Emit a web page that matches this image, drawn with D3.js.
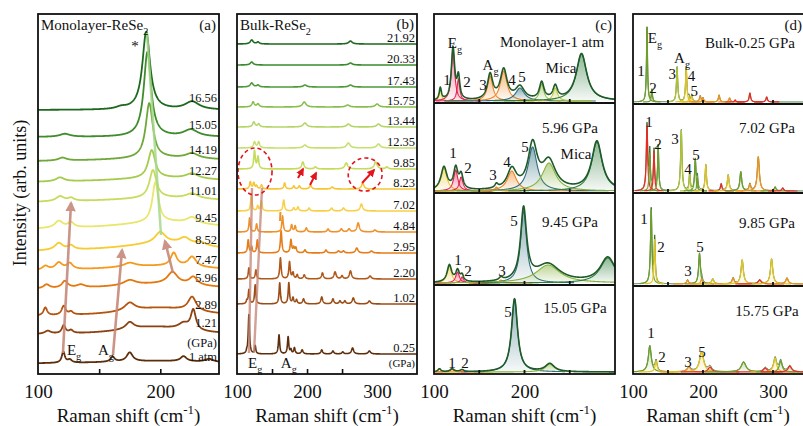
<!DOCTYPE html>
<html><head><meta charset="utf-8">
<script src="https://cdn.jsdelivr.net/npm/d3@7"></script>
<style>body{margin:0;background:#fff}svg text{font-family:"Liberation Serif","Tinos","Times New Roman","DejaVu Serif",serif !important;fill:#111}</style>
</head><body><svg id="c" width="803" height="426" font-family="Liberation Serif, DejaVu Serif, serif"></svg>
<script>
// ---------------- DATA ----------------
// Panel (a): monolayer ReSe2, pressures (GPa), stacking offsets (a.u.), peaks [position cm-1, height a.u., HWHM cm-1]
const pressuresA = ["1 atm","1.21","2.89","5.96","7.47","8.52","9.45","11.01","12.27","14.19","15.05","16.56"];
const offsetsA = [10,39,57,84,102,122,144,171,191,212,237,264];
const peaksA = [
  [[120.7,11,1.5],[126,3,2],[161,5,2],[175,9,3],[219,5,3],[240,3,4],[200,3,60]],
  [[108,3,3],[121,8,1.8],[127,3,2],[175,7,4],[219,6,5],[227,20,2.5],[195,8,35]],
  [[106,8,1.8],[121,9,2],[127,3,2],[175,8,5],[226,14,4],[200,9,40]],
  [[107,4,3],[122,7,3],[135,3,4],[175,5,6],[210,12,5],[227,8,4],[200,6,50]],
  [[106,4,3],[117,7,3.5],[126,6,3],[175,4,6],[211,13,3],[226,10,4],[200,6,60]],
  [[117,7,4],[127,4,3],[200,11,5],[220,6,5],[233,3,5],[205,9,45]],
  [[117,7,4],[127,5,3],[196,40,3],[226,6,5],[205,8,50]],
  [[118,5,4],[127,3,3],[194,28,3.5],[226,5,6],[205,5,60]],
  [[118,4,4],[193,28,3.5],[226,5,6],[205,5,60]],
  [[120,3,4],[191,55,3.5],[226,5,6],[205,4,60]],
  [[122,3,5],[189.5,85,3.6],[225,7,7]],
  [[168,2,5],[188.5,78,3.8],[226,8,7]]
];
const colorsA = ["#5e2e0c","#8a4212","#b5540e","#e4780e","#f59a1c","#f6cc30","#e9e66c","#c6dc5c","#a4cc4c","#6ea83a","#3f8c2c","#1d6a1e"];

// Panel (b): bulk ReSe2
const pressuresB = ["0.25","1.02","2.20","2.95","4.84","7.02","8.23","9.85","12.35","13.44","15.75","17.43","20.33","21.92"];
const offsetsB = [20,70,95,121,142,163,185,205,226,247,267,287,309,330];
const peaksB = [
  [[114,2,1],[117,39,1.1],[126,8,1],[160,19,1.1],[173,17,1.1],[177,4,1],[182,6,1.2],[193,4,1.5],[221,4,1.5],[237,3,1.5],[251,2,1.5],[265,6,1.8],[289,3,2]],
  [[114,3,1],[117,14,1.1],[126,19,1.1],[161,21,1.1],[174,21,1.1],[180,6,1.2],[185,4,1.2],[195,5,1.5],[221,7,1.5],[237,5,1.5],[247,3,1.5],[254,3,1.5],[266,6,1.8],[289,3,2]],
  [[117,11,1.1],[127,9,1.1],[162,21,1.2],[175,17,1.2],[180,6,1.2],[186,4,1.2],[196,4,1.5],[222,6,1.5],[240,7,1.8],[250,3,1.5],[262,8,1.8],[290,3,2]],
  [[116,13,1.1],[121,6,1],[129,13,1.1],[163,22,1.2],[177,13,1.2],[181,5,1.2],[184,5,1.2],[197,3,1.5],[227,3,1.6],[245,2,1.8],[252,2,1.6],[271,5,2],[292,2,2]],
  [[118,14,1.1],[128,8,1.1],[165,16,1.2],[178,7,1.2],[183,6,1.2],[199,4,1.5],[230,3,1.6],[249,3,1.8],[260,3,1.8],[273,9,2],[297,2,2]],
  [[120.5,16,1.2],[129.5,5,1.1],[134.8,10,1.2],[166.7,11,1.3],[181,3,1.3],[187,4,1.4],[203,3,1.5],[235,3,1.6],[252,3,1.8],[277.6,7,2]],
  [[119,7,1.3],[124,6,1.3],[128,3,1.3],[135,4,1.3],[168,6,1.3],[181,3,1.4],[189,3,1.5],[205,4,1.6],[236,2,1.8],[279.5,6,2]],
  [[125,18,1.3],[130,12,1.3],[194,7,2],[212,2,2],[256,6,2.5],[298,7,2.5],[314,2,2]],
  [[125,6,1.8],[131,6,1.6],[197,3,3],[259,5,3],[302,4,3]],
  [[124,5,2],[131,3,1.8],[197,4,3],[259,3,3],[302,3,3]],
  [[123,5,2],[130,3,2],[196,5,3],[258,2,3],[300,3,3]],
  [[121,4,2.5],[130,2,2],[197,2,3],[262,2,3]],
  [[121,3,2.5],[262,2,3]],
  [[121,4,2.5],[130,2,2],[262,3,3]]
];
const colorsB = ["#5e2e0c","#9a4c16","#b0571a","#e57c18","#f0902a","#f8cf46","#f6c534","#c4dc5a","#c6e070","#b4d668","#88be4e","#4c9a3a","#3a8a2e","#1e6a1e"];

// Panel (c): monolayer fits, components [position, height, HWHM, colour key]
const titlesC = ["Monolayer-1 atm","5.96 GPa","9.45 GPa","15.05 GPa"];
const compsC = [
  [[107,12,1.5,"y"],[121,52,2.2,"r"],[127,22,1.8,"r"],[162,25,3.5,"o"],[177,30,4.5,"o"],[195,13,6,"t"],[219,17,3,"g"],[234,13,3,"v"],[263,47,7,"m"]],
  [[111,23,4,"y"],[124,21,2.8,"r"],[130,14,2.5,"r"],[169,4,2,"o"],[186,20,6,"o"],[209,44,6,"t"],[227,28,9,"g"],[280,49,7,"m"]],
  [[117,17,3,"y"],[126,11,2.5,"r"],[131,6,2,"r"],[174,3,2.5,"o"],[199,72,4,"t"],[226,18,16,"g"],[292,25,10,"m"]],
  [[106,3,2,"y"],[120,3,2.5,"r"],[131,2,2.5,"y"],[189,73,4,"t"],[228,8,6,"g"]]
];
// Panel (d): bulk fits
const titlesD = ["Bulk-0.25 GPa","7.02 GPa","9.85 GPa","15.75 GPa"];
const compsD = [
  [[120,75,0.9,"g"],[127,12,0.9,"g"],[163,35,1.1,"v"],[176,35,1.1,"y"],[180,5,1,"y"],[184,7,1,"y"],[196,6,1.2,"o"],[200,4,1.2,"o"],[223,7,1.2,"o"],[238,4,1.2,"o"],[246,2,1,"r"],[267,9,1.3,"r"],[291,5,1.3,"r"]],
  [[120,66,1.2,"r"],[124,38,1,"g"],[130,40,1,"r"],[136,45,1,"g"],[169,61,1.2,"v"],[181,18,1,"v"],[189,31,1.2,"g"],[192,13,1,"g"],[204,26,1.2,"y"],[226,7,1.3,"r"],[236,16,1.5,"y"],[254,19,1.6,"g"],[267,7,1.5,"o"],[279,34,1.8,"o"],[303,4,1.5,"g"],[314,3,1.5,"r"]],
  [[126,75,1.2,"g"],[131,45,1,"y"],[178,4,1.5,"o"],[195,30,1.5,"g"],[198,5,1.5,"o"],[214,5,1.8,"y"],[243,6,1.8,"o"],[256,24,2,"y"],[281,4,2.5,"r"],[298,25,2,"y"],[320,6,2,"o"]],
  [[124,26,2.5,"g"],[133,11,1.8,"y"],[180,5,3,"o"],[198,20,3.5,"y"],[210,5,3,"r"],[258,10,4,"g"],[289,4,3,"r"],[303,14,2.5,"y"],[311,11,2.5,"g"],[324,6,3,"r"]]
];
const tickLabelsA = [100,200], tickLabelsB = [100,200,300], tickLabelsC = [100,200], tickLabelsD = [100,200,300];

// ---------------- DRAWING ----------------
const colC = {r:"#e3234f",o:"#f08422",y:"#e6c21e",t:"#2f6d7c",g:"#86b33c",v:"#b9c83a",m:"#2f7d3c"};
const colD = {g:"#6f9e2c",r:"#ea2a22",y:"#e2c420",o:"#f0921e",v:"#b3c233"};
const FONT = "Liberation Serif, Tinos, Times New Roman, DejaVu Serif, serif";
const svg = d3.select("#c");
const defs = svg.append("defs");
const lor = (x, pk) => pk.reduce((s,p) => s + p[1]/(1+((x-p[0])/p[2])**2), 0);

function rich(g, x, y, parts, size, anchor) {
  const t = g.append("text").attr("x",x).attr("y",y).attr("font-size",size).attr("font-family",FONT).attr("text-anchor",anchor||"start");
  let shift = 0;
  parts.forEach(p => {
    const s = Array.isArray(p) ? p[0] : p, kind = Array.isArray(p) ? p[1] : null;
    const target = kind==="sub" ? 0.3*size : kind==="sup" ? -0.42*size : 0;
    const ts = t.append("tspan").text(s).attr("dy", target - shift);
    shift = target;
    if (kind) ts.attr("font-size", size*0.68);
  });
  return t;
}
function txt(x,y,s,size,anchor){return svg.append("text").attr("x",x).attr("y",y).attr("font-size",size).attr("font-family",FONT).attr("text-anchor",anchor||"start").text(s);}
let gid = 0;
function grad(color, o1, o2) {
  const id = "g" + (gid++);
  const lg = defs.append("linearGradient").attr("id", id).attr("x1",0).attr("y1",0).attr("x2",0).attr("y2",1);
  lg.append("stop").attr("offset","0%").attr("stop-color",color).attr("stop-opacity",o1);
  lg.append("stop").attr("offset","100%").attr("stop-color",color).attr("stop-opacity",o2);
  return "url(#"+id+")";
}
function clip(x,y,w,h){const id="c"+(gid++);defs.append("clipPath").attr("id",id).append("rect").attr("x",x).attr("y",y).attr("width",w).attr("height",h);return "url(#"+id+")";}
function marker(color){const id="m"+(gid++);defs.append("marker").attr("id",id).attr("viewBox","0 0 10 10").attr("refX",8).attr("refY",5)
  .attr("markerWidth",4).attr("markerHeight",4).attr("orient","auto").append("path").attr("d","M0,0L10,5L0,10z").attr("fill",color);return "url(#"+id+")";}

const B = 374, T = 14;
function axisX(x, ticks, labels) {
  const g = svg.append("g").attr("transform","translate(0,"+B+")");
  g.call(d3.axisBottom(x).tickValues(ticks).tickSize(-5).tickFormat(""));
  g.select(".domain").remove(); g.selectAll("line").attr("stroke","#111").attr("stroke-width",1.6);
  const g2 = svg.append("g").attr("transform","translate(0,"+B+")");
  g2.call(d3.axisBottom(x).tickValues(labels).tickSize(0).tickPadding(11));
  g2.attr("font-family",FONT);
  g2.select(".domain").remove();
  g2.selectAll("text").attr("font-size",19).attr("font-family",FONT).attr("fill","#111");
  const a = x.range()[0], b = Math.min(x.range()[1], 803);
  rich(svg, (a+b)/2, 422, ["Raman shift (cm",["-1","sup"],")"], 19, "middle");
}

function stacked(x, y, offsets, peaks, colors, width) {
  const [x0,x1] = x.domain();
  const xs = d3.range(x0, x1+0.1, 0.2);
  const cp = clip(x.range()[0], T, x.range()[1]-x.range()[0], B-T);
  const g = svg.append("g").attr("clip-path", cp);
  const line = d3.line().x(d=>x(d[0])).y(d=>y(d[1]));
  offsets.forEach((o,i) => {
    g.append("path").attr("d", line(xs.map(v=>[v, o+lor(v,peaks[i])])))
      .attr("fill","none").attr("stroke",colors[i]).attr("stroke-width",width).attr("stroke-linejoin","round");
  });
  return g;
}

// ===== Panel (a)
const xA = d3.scaleLinear([100,248],[38,219]);
const yA = d3.scaleLinear([0,360],[B,T]);
const gA = stacked(xA, yA, offsetsA, peaksA, colorsA, 1.8);
const mPink = marker("#c7897a");
gA.append("line").attr("x1",xA(189.1)).attr("y1",yA(341)).attr("x2",xA(200.6)).attr("y2",yA(139))
  .attr("stroke","#a9d98c").attr("stroke-width",2.5).attr("opacity",0.85);
[[120.4,21,127,171],[161.3,19,168.7,124],[210.4,101,203.8,133]].forEach(a=>{
  svg.append("line").attr("x1",xA(a[0])).attr("y1",yA(a[1])).attr("x2",xA(a[2])).attr("y2",yA(a[3]))
   .attr("stroke","#c7897a").attr("stroke-width",2.6).attr("opacity",0.9).attr("marker-end",mPink);
});
txt(xA(179.3), yA(329)+6, "*", 15, "middle");
pressuresA.forEach((p,i)=>{ txt(217, yA(offsetsA[i]) - (i===0?3:8), p, 12.5, "end"); });
txt(217, 347, "(GPa)", 12.5, "end");
rich(svg, 41, 30, ["Monolayer-ReSe",["2","sub"]], 15);
txt(216, 30, "(a)", 15, "end");
rich(svg, xA(129.5), 355, ["E",["g","sub"]], 15, "middle");
rich(svg, xA(155.5), 355, ["A",["g","sub"]], 15, "middle");
svg.append("rect").attr("x",38).attr("y",T).attr("width",181).attr("height",B-T).attr("fill","none").attr("stroke","#111").attr("stroke-width",1.8);
axisX(xA, [150,200], tickLabelsA);

// ===== Panel (b)
const xB = d3.scaleLinear([100,357],[237,417]);
const yB = d3.scaleLinear([0,360],[B,T]);
const gB = stacked(xB, yB, offsetsB, peaksB, colorsB, 1.6);
[[117.1,21,121.4,186],[124.3,21,135.7,186]].forEach(a=>{
  gB.append("line").attr("x1",xB(a[0])).attr("y1",yB(a[1])).attr("x2",xB(a[2])).attr("y2",yB(a[3]))
   .attr("stroke","#c7897a").attr("stroke-width",2.4).attr("opacity",0.8);
});
gB.append("line").attr("x1",xB(161.4)).attr("y1",yB(153)).attr("x2",xB(162)).attr("y2",yB(162)).attr("stroke","#f0902a").attr("stroke-width",2);
[[125.7,202.5,24.3,23.5,0],[283,199.5,24.3,16.5,-22]].forEach(e=>{
  const cx=xB(e[0]), cy=yB(e[1]);
  svg.append("ellipse").attr("cx",cx).attr("cy",cy).attr("rx",xB(e[0]+e[2])-cx).attr("ry",cy-yB(e[1]+e[3]))
   .attr("transform","rotate("+e[4]+","+cx+","+cy+")")
   .attr("fill","none").attr("stroke","#e3141c").attr("stroke-width",1.6).attr("stroke-dasharray","4,3");
});
const mRed = marker("#e3141c");
[[187.1,196,194.3,205],[204.3,189,212.9,201],[278.6,191,295.7,204]].forEach(a=>{
  svg.append("line").attr("x1",xB(a[0])).attr("y1",yB(a[1])).attr("x2",xB(a[2])).attr("y2",yB(a[3]))
   .attr("stroke","#e3141c").attr("stroke-width",2).attr("marker-end",mRed);
});
pressuresB.forEach((p,i)=>{ txt(415, yB(offsetsB[i]) - 2, p, 12.5, "end"); });
txt(415, 367, "(GPa)", 11, "end");
rich(svg, 240, 30, ["Bulk-ReSe",["2","sub"]], 15);
txt(414, 29, "(b)", 15, "end");
rich(svg, xB(126), 368, ["E",["g","sub"]], 15, "middle");
rich(svg, xB(174), 368, ["A",["g","sub"]], 15, "middle");
svg.append("rect").attr("x",237).attr("y",T).attr("width",180).attr("height",B-T).attr("fill","none").attr("stroke","#111").attr("stroke-width",1.8);
axisX(xB, [150,200,250], tickLabelsB);

// ===== fitted panels
function fitted(x, bounds, comps, cols, titles, tickVals, opts) {
  const [x0,x1] = x.domain();
  const xs = d3.range(x0, x1+0.05, opts.step);
  const left = x.range()[0], w = x.range()[1]-left;
  comps.forEach((cs, k) => {
    const top = bounds[k], bot = bounds[k+1];
    const y = d3.scaleLinear([0,90],[bot-2, bot-92]);
    const g = svg.append("g").attr("clip-path", clip(left, top, w, bot-top));
    const area = d3.area().x(d=>x(d[0])).y0(y(0)).y1(d=>y(d[1]));
    const line = d3.line().x(d=>x(d[0])).y(d=>y(d[1]));
    const total = xs.map(v=>[v, lor(v, cs)]);
    if (opts.totalFirst) g.append("path").attr("d",line(total)).attr("fill","none").attr("stroke",opts.totalColor).attr("stroke-width",opts.totalWidth);
    cs.forEach(c => {
      const pts = xs.filter(v=>Math.abs(v-c[0])<c[2]*14).map(v=>[v, lor(v,[c])]);
      g.append("path").attr("d",area(pts)).attr("fill",grad(cols[c[3]],opts.o1,opts.o2));
      g.append("path").attr("d",line(pts)).attr("fill","none").attr("stroke",cols[c[3]]).attr("stroke-width",opts.compWidth);
    });
    if (!opts.totalFirst) g.append("path").attr("d",line(total)).attr("fill","none").attr("stroke",opts.totalColor).attr("stroke-width",opts.totalWidth);
    tickVals.forEach(t => svg.append("line").attr("x1",x(t)).attr("x2",x(t)).attr("y1",bot).attr("y2",bot-4).attr("stroke","#111").attr("stroke-width",1.8));
    opts.labels[k].forEach(L => {
      const parts = L[0]==="Eg" ? ["E",["g","sub"]] : L[0]==="Ag" ? ["A",["g","sub"]] : [L[0]];
      rich(svg, x(L[1]), y(L[2]) + 5, parts, 15, L[3]||"middle");
    });
    txt(x(opts.titlePos[k][0]), y(opts.titlePos[k][1]) + 5, titles[k], 15, "middle");
  });
  svg.append("rect").attr("x",left).attr("y",bounds[0]).attr("width",w).attr("height",bounds[4]-bounds[0]).attr("fill","none").attr("stroke","#111").attr("stroke-width",1.8);
  for (let k=1;k<4;k++) svg.append("line").attr("x1",left).attr("x2",left+w).attr("y1",bounds[k]).attr("y2",bounds[k]).attr("stroke","#111").attr("stroke-width",1.8);
}

const xC = d3.scaleLinear([100,300],[434,615]);
fitted(xC, [14,103,193,285,374], compsC, colC, titlesC, [150,200,250], {
  step:0.2, o1:0.55, o2:0.04, compWidth:1.1, totalColor:"#1f5a2a", totalWidth:1.6, totalFirst:false,
  titlePos:[[230.4,59],[250.3,63],[250.3,61],[255.8,64]],
  labels:[
    [["Eg",123.2,58],["1",114.4,21],["2",136.5,19],["3",154.1,16],["Ag",162.5,36],["4",186.2,21],["5",197.2,24],["Mica",240.3,33]],
    [["Mica",256.9,37],["1",121,38],["2",137.6,23],["3",165.2,16],["4",180.7,29],["5",200.6,44]],
    [["5",188.4,62],["1",126.5,23],["2",137.6,12],["3",175.1,12]],
    [["5",181.8,60],["1",119.9,9],["2",134.3,9]]
  ]});
txt(612, 30, "(c)", 15, "end");
axisX(xC, [], tickLabelsC);

const xD = d3.scaleLinear([100,360],[633,815]);
fitted(xD, [14,104,193,286,374], compsD, colD, titlesD, [150,200,300], {
  step:0.1, o1:0.35, o2:0.03, compWidth:1.2, totalColor:"#2b6a28", totalWidth:1, totalFirst:true,
  titlePos:[[267,59],[291.4,63],[291.4,61],[291.4,61]],
  labels:[
    [["Eg",131.4,64],["1",111.4,31],["2",128.6,14],["3",156,28],["Ag",170,44],["4",183.5,26],["5",187.5,11]],
    [["1",122.9,69],["2",135.7,47],["3",160,52],["4",178.6,22],["5",190,36]],
    [["1",115.7,65],["2",140,37],["3",178.6,13],["5",195.7,37]],
    [["1",125.7,39],["2",141.4,15],["3",178.6,10],["5",198.6,20]]
  ]});
txt(802, 30, "(d)", 15, "end");
axisX(xD, [], tickLabelsD);

svg.append("text").attr("transform","translate(26,193) rotate(-90)").attr("font-size",18).attr("font-family",FONT).attr("text-anchor","middle").text("Intensity (arb. units)");
</script></body></html>
